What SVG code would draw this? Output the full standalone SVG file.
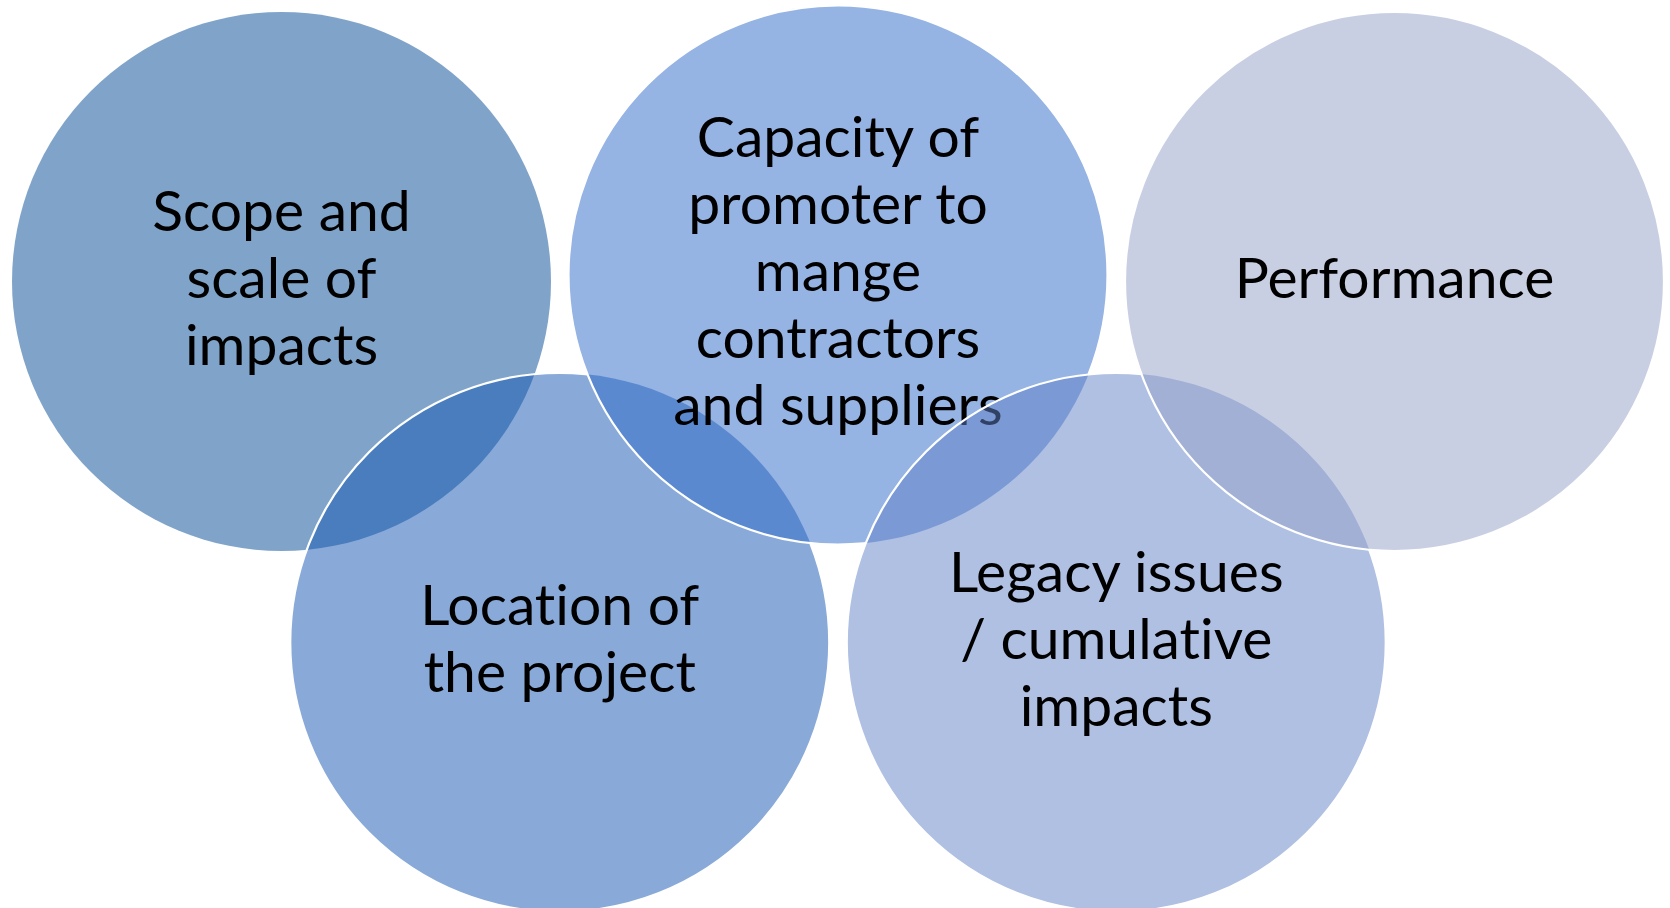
<svg xmlns="http://www.w3.org/2000/svg" width="1670" height="908" viewBox="0 0 1670 908">
<style>
.fill{stroke:none;fill-opacity:0.5}
.edge{fill:none;stroke:#FFFFFF;stroke-width:2.2}
.lbl{font-family:Lato,"Open Sans","Liberation Sans",sans-serif;font-size:57px;fill:#000000;text-anchor:middle;font-variant-ligatures:none;font-feature-settings:"liga" 0,"clig" 0}
</style>
<defs>
<mask id="mLoc" maskUnits="userSpaceOnUse" x="0" y="0" width="1670" height="908">
<rect x="0" y="0" width="1670" height="908" fill="#fff"/>
<circle cx="838" cy="275" r="269.5" fill="#000"/>
<circle cx="1116.25" cy="642.5" r="269.5" fill="#000"/>
<circle cx="1394.5" cy="281.5" r="269.5" fill="#000"/>
</mask>
<mask id="mCap" maskUnits="userSpaceOnUse" x="0" y="0" width="1670" height="908">
<rect x="0" y="0" width="1670" height="908" fill="#fff"/>
<circle cx="1116.25" cy="642.5" r="269.5" fill="#000"/>
<circle cx="1394.5" cy="281.5" r="269.5" fill="#000"/>
</mask>
<mask id="mLeg" maskUnits="userSpaceOnUse" x="0" y="0" width="1670" height="908">
<rect x="0" y="0" width="1670" height="908" fill="#fff"/>
<circle cx="1394.5" cy="281.5" r="269.5" fill="#000"/>
</mask>
</defs>
<rect x="0" y="0" width="1670" height="908" fill="#FFFFFF"/>
<g id="connectors"></g>
<g id="scope">
<circle class="fill" cx="281.5" cy="281.5" r="269.5" fill="#014993"/>
<text class="lbl"><tspan x="281.5" y="231">Scope and</tspan><tspan x="281.5" y="298">scale of</tspan><tspan x="281.5" y="365">impacts</tspan></text>
</g>
<g id="location">
<circle class="fill" cx="559.75" cy="642.5" r="269.5" fill="#1355B1"/>
<circle class="edge" cx="559.75" cy="642.5" r="269.5" mask="url(#mLoc)"/>
<text class="lbl"><tspan x="559.75" y="625">Location of</tspan><tspan x="559.75" y="692">the project</tspan></text>
</g>
<g id="capacity">
<circle class="fill" cx="838" cy="275" r="269.5" fill="#2B67C7"/>
<circle class="edge" cx="838" cy="275" r="269.5" mask="url(#mCap)"/>
<text class="lbl"><tspan x="838" y="157">Capacity of</tspan><tspan x="838" y="224">promoter to</tspan><tspan x="838" y="291">mange</tspan><tspan x="838" y="358">contractors</tspan><tspan x="838" y="425">and suppliers</tspan></text>
</g>
<g id="legacy">
<circle class="fill" cx="1116.25" cy="642.5" r="269.5" fill="#6181C7"/>
<circle class="edge" cx="1116.25" cy="642.5" r="269.5" mask="url(#mLeg)"/>
<text class="lbl"><tspan x="1116.25" y="592">Legacy issues</tspan><tspan x="1116.25" y="659">/ cumulative</tspan><tspan x="1116.25" y="726">impacts</tspan></text>
</g>
<g id="performance">
<circle class="fill" cx="1394.5" cy="281.5" r="269.5" fill="#939FC7"/>
<circle class="edge" cx="1394.5" cy="281.5" r="269.5"/>
<text class="lbl"><tspan x="1394.5" y="298">Performance</tspan></text>
</g>
</svg>
